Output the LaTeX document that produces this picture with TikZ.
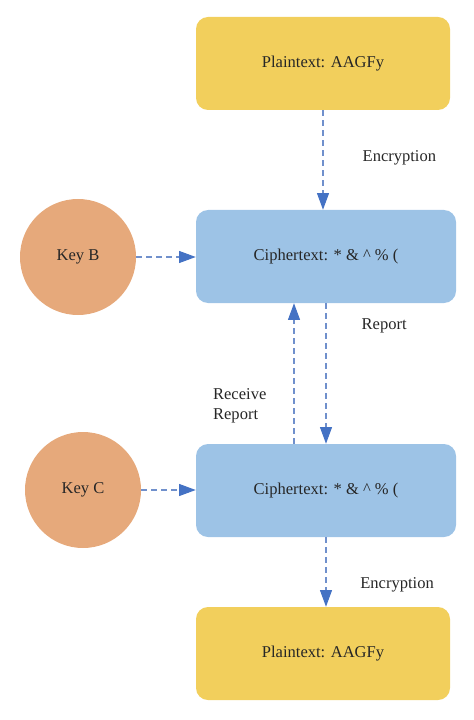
\documentclass[tikz,border=0pt]{standalone}
\usepackage{fontspec}
\setmainfont{Liberation Serif}
\usepackage{xcolor}
\usepackage{tikz}
\usetikzlibrary{arrows.meta, positioning}

\definecolor{plainyellow}{HTML}{F2CF5C}
\definecolor{cipherblue}{HTML}{9DC3E6}
\definecolor{keyorange}{HTML}{E6A97B}
\definecolor{arrowblue}{HTML}{4472C4}
\definecolor{dashblue}{HTML}{7090CC}
\definecolor{textgray}{HTML}{262626}

\begin{document}
\begin{tikzpicture}[
    x=0.75pt, y=-0.75pt,
    every node/.style={font=\fontsize{12.4}{15}\selectfont, text=textgray},
    plainbox/.style={rectangle, rounded corners=9pt, fill=plainyellow, minimum width=190.5pt, minimum height=69.75pt, align=center},
    cipherbox/.style={rectangle, rounded corners=9pt, fill=cipherblue, minimum width=195pt, minimum height=69.75pt, align=center},
    keynode/.style={circle, fill=keyorange, minimum size=87pt, align=center},
    arrow/.style={-{Triangle[length=12.5pt, width=9pt, color=arrowblue]}, dashblue, line width=0.8pt, dash pattern=on 4.5pt off 3pt}
]
    \useasboundingbox (0,0) rectangle (474,720);

    % Boxes
    \node[plainbox] (plaintop) at (323,63.5) {Plaintext: AAGFy};
    \node[cipherbox] (cipherB) at (326,256.5) {Ciphertext: * \& \textasciicircum{} \% (};
    \node[cipherbox] (cipherC) at (326,490.5) {Ciphertext: * \& \textasciicircum{} \% (};
    \node[plainbox] (plainbot) at (323,653.5) {Plaintext: AAGFy};

    % Keys
    \node[keynode] (keyB) at (78,257) {Key B};
    \node[keynode] (keyC) at (83,490) {Key C};

    % Transitions
    \draw[arrow] (plaintop.south) -- node[pos=0.48, right=26pt] {Encryption} (plaintop.south |- cipherB.north);
    \draw[arrow] (keyB) -- (keyB -| cipherB.west);
    \draw[arrow] (cipherB.south) -- node[pos=0.16, right=23pt] {Report} (cipherC.north);
    \draw[arrow] ([xshift=-24pt]cipherC.north) -- node[pos=0.27, left=17pt, align=left] {Receive\\Report} ([xshift=-24pt]cipherB.south);
    \draw[arrow] (keyC) -- (keyC -| cipherC.west);
    \draw[arrow] (cipherC.south) -- node[pos=0.68, right=22pt] {Encryption} (cipherC.south |- plainbot.north);
\end{tikzpicture}
\end{document}
